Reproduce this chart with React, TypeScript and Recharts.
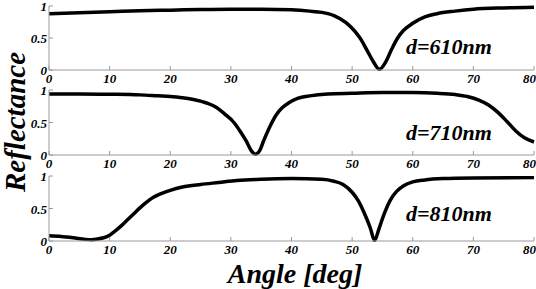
import React from 'react';
import { LineChart, Line, XAxis, YAxis } from 'recharts';

const X_TICKS = [0, 10, 20, 30, 40, 50, 60, 70, 80];
const Y_TICKS = [0, 0.5, 1];
const Y_TICK_LABELS = ['0', '0.5', '1'];

// d = 610 nm
const angle610 = [0, 5, 10, 15, 20, 25, 30, 35, 40, 43, 45, 47, 49, 50.5, 51.5, 52.5, 53.5, 54.5, 55.5, 56.5, 57.5, 58.5, 60, 62, 64, 67, 70, 75, 80];
const refl610 = [0.88, 0.895, 0.91, 0.925, 0.935, 0.945, 0.95, 0.95, 0.94, 0.92, 0.9, 0.85, 0.74, 0.6, 0.47, 0.3, 0.13, 0.01, 0.12, 0.32, 0.5, 0.62, 0.73, 0.83, 0.88, 0.92, 0.95, 0.97, 0.98];

// d = 710 nm
const angle710 = [0, 5, 10, 15, 18, 20, 22, 24, 26, 27.5, 29, 30.5, 31.5, 32.5, 33.5, 34, 34.7, 35.5, 36.5, 37.5, 38.5, 39.5, 41, 43, 46, 50, 55, 60, 64, 67, 69, 71, 72.5, 74, 75.5, 77, 78.5, 80];
const refl710 = [0.94, 0.94, 0.935, 0.925, 0.91, 0.9, 0.88, 0.85, 0.8, 0.74, 0.63, 0.5, 0.37, 0.22, 0.05, 0.01, 0.06, 0.24, 0.45, 0.62, 0.73, 0.8, 0.87, 0.91, 0.94, 0.95, 0.96, 0.96, 0.95, 0.93, 0.9, 0.84, 0.77, 0.66, 0.52, 0.37, 0.26, 0.2];

// d = 810 nm
const angle810 = [0, 2, 4, 6, 7, 8, 9, 10, 11, 12, 13, 14, 15, 16, 17, 18, 20, 22, 25, 28, 31, 35, 40, 45, 47, 48.5, 50, 51, 52, 53, 53.7, 54.4, 55.3, 56.3, 57.3, 58.5, 60, 62, 65, 70, 80];
const refl810 = [0.08, 0.07, 0.05, 0.025, 0.02, 0.03, 0.05, 0.09, 0.16, 0.24, 0.33, 0.42, 0.51, 0.59, 0.66, 0.71, 0.78, 0.83, 0.87, 0.9, 0.93, 0.95, 0.96, 0.95, 0.92, 0.87, 0.75, 0.62, 0.43, 0.2, 0.01, 0.18, 0.42, 0.63, 0.76, 0.85, 0.91, 0.94, 0.96, 0.97, 0.975];

const LABELS = ['d=610nm', 'd=710nm', 'd=810nm'];

const FONT = 'Liberation Serif, DejaVu Serif, serif';
const GRAY = '#9a9a9a';
const TICK_LEN = 4;

const toRows = (angles: number[], values: number[]) =>
  angles.map((a, i) => ({ angle: a, r: values[i] }));

const panels = [
  { data: toRows(angle610, refl610), label: LABELS[0], top: 6, plotH: 64, labelY: 54 },
  { data: toRows(angle710, refl710), label: LABELS[1], top: 90, plotH: 65, labelY: 140 },
  { data: toRows(angle810, refl810), label: LABELS[2], top: 176, plotH: 65, labelY: 221 },
];

const T = (props: any) => (
  <text fontFamily={FONT} fontWeight="bold" fontStyle="italic" fill="#000" {...props} />
);

const BottomTick = (props: any) => {
  const { x, y, payload } = props;
  const last = payload.value === X_TICKS[X_TICKS.length - 1];
  return (
    <g>
      <line x1={x} x2={x} y1={y} y2={y - TICK_LEN} stroke={GRAY} />
      <T x={last ? x + 2 : x} y={y + 13} textAnchor={last ? 'end' : 'middle'} fontSize={13}>
        {payload.value}
      </T>
    </g>
  );
};

const TopTick = (props: any) => {
  const { x, y } = props;
  return <line x1={x} x2={x} y1={y} y2={y + TICK_LEN} stroke={GRAY} />;
};

const LeftTick = (props: any) => {
  const { x, y, payload } = props;
  const idx = Y_TICKS.indexOf(payload.value);
  return (
    <g>
      <line x1={x} x2={x + TICK_LEN} y1={y} y2={y} stroke={GRAY} />
      <T x={x - 2} y={y + 5} textAnchor="end" fontSize={13}>
        {Y_TICK_LABELS[idx]}
      </T>
    </g>
  );
};

const RightTick = (props: any) => {
  const { x, y } = props;
  return <line x1={x} x2={x - TICK_LEN} y1={y} y2={y} stroke={GRAY} />;
};

const Panel = ({ data, top, plotH }: { data: any[]; top: number; plotH: number }) => (
  <div style={{ position: 'absolute', left: 0, top: top - 6 }}>
    <LineChart width={536} height={plotH + 26} data={data} margin={{ top: 6, right: 2, bottom: 0, left: 0 }}>
      <XAxis
        xAxisId="bottom"
        dataKey="angle"
        type="number"
        domain={[0, 80]}
        ticks={X_TICKS}
        height={20}
        tickSize={0}
        tickMargin={0}
        tickLine={false}
        axisLine={{ stroke: GRAY }}
        tick={<BottomTick />}
        interval={0}
      />
      <XAxis
        xAxisId="top"
        orientation="top"
        dataKey="angle"
        type="number"
        domain={[0, 80]}
        ticks={X_TICKS}
        height={0}
        tickSize={0}
        tickMargin={0}
        tickLine={false}
        axisLine={{ stroke: GRAY }}
        tick={<TopTick />}
        interval={0}
      />
      <YAxis
        yAxisId="left"
        type="number"
        domain={[0, 1]}
        ticks={Y_TICKS}
        width={49}
        tickSize={0}
        tickMargin={0}
        tickLine={false}
        axisLine={{ stroke: GRAY }}
        tick={<LeftTick />}
        interval={0}
      />
      <YAxis
        yAxisId="right"
        orientation="right"
        type="number"
        domain={[0, 1]}
        ticks={Y_TICKS}
        width={0}
        tickSize={0}
        tickMargin={0}
        tickLine={false}
        axisLine={{ stroke: GRAY }}
        tick={<RightTick />}
        interval={0}
      />
      <Line
        xAxisId="bottom"
        yAxisId="left"
        type="monotone"
        dataKey="r"
        stroke="#000"
        strokeWidth={3.5}
        dot={false}
        isAnimationActive={false}
      />
    </LineChart>
  </div>
);

export default function App() {
  return (
    <div style={{ position: 'absolute', left: 0, top: 0, width: 536, height: 289, background: '#fff', overflow: 'hidden' }}>
      {panels.map((p) => (
        <Panel key={p.label} data={p.data} top={p.top} plotH={p.plotH} />
      ))}
      <svg width={536} height={289} style={{ position: 'absolute', left: 0, top: 0, pointerEvents: 'none' }}>
        {panels.map((p) => (
          <T key={p.label} x={406} y={p.labelY} fontSize={22}>
            {p.label}
          </T>
        ))}
        <T x={295} y={283} textAnchor="middle" fontSize={28}>
          Angle [deg]
        </T>
        <T transform="rotate(-90)" x={-122} y={25} textAnchor="middle" fontSize={29}>
          Reflectance
        </T>
      </svg>
    </div>
  );
}
